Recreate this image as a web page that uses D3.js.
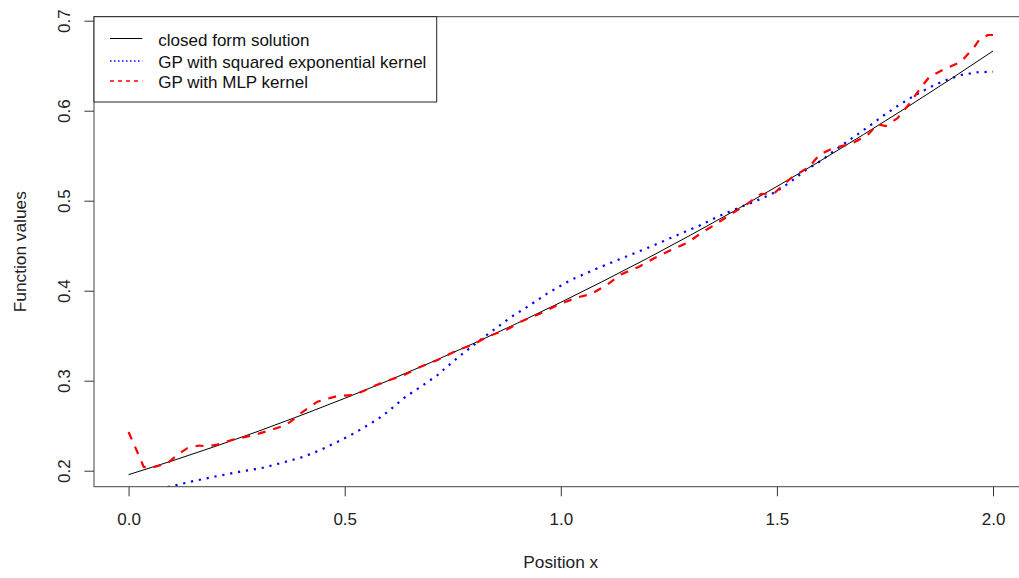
<!DOCTYPE html>
<html>
<head>
<meta charset="utf-8">
<script src="https://cdn.jsdelivr.net/npm/d3@7"></script>
<style>
  html, body { margin: 0; padding: 0; background: #fff; }
  svg { display: block; font-family: "Liberation Sans", Arial, sans-serif; }
</style>
</head>
<body>
<svg id="chart" width="1019" height="578"></svg>
<script>
// ---- data ----
const xTicks = [0.0, 0.5, 1.0, 1.5, 2.0];
const yTicks = [0.2, 0.3, 0.4, 0.5, 0.6, 0.7];

const closedX = [0.0, 0.1, 0.2, 0.3, 0.4, 0.5, 0.6, 0.7, 0.8, 0.9, 1.0, 1.1, 1.2, 1.3, 1.4, 1.5, 1.6, 1.7, 1.8, 1.9, 2.0];
const closedY = [0.1956, 0.2108, 0.2269, 0.2438, 0.2617, 0.2804, 0.2999, 0.3204, 0.3418, 0.3640, 0.3871, 0.4111, 0.4359, 0.4617, 0.4883, 0.5158, 0.5441, 0.5734, 0.6035, 0.6345, 0.6663];

const seX = [0.0, 0.105, 0.1435, 0.205, 0.267, 0.306, 0.344, 0.406, 0.444, 0.483, 0.522, 0.576, 0.606, 0.641, 0.676, 0.715, 0.730, 0.769, 0.799, 0.834, 0.884, 0.923, 0.969, 1.023, 1.085, 1.147, 1.208, 1.270, 1.324, 1.363, 1.409, 1.448, 1.494, 1.529, 1.567, 1.602, 1.637, 1.679, 1.714, 1.745, 1.779, 1.814, 1.849, 1.887, 1.926, 1.964, 2.0];
const seY = [0.172, 0.1833, 0.1878, 0.194, 0.1997, 0.2027, 0.2074, 0.2156, 0.223, 0.232, 0.2416, 0.257, 0.268, 0.2822, 0.2933, 0.3063, 0.3127, 0.3286, 0.3397, 0.3527, 0.3704, 0.3822, 0.397, 0.4119, 0.4249, 0.4371, 0.4489, 0.4619, 0.473, 0.4822, 0.4916, 0.4989, 0.5089, 0.52, 0.5341, 0.5444, 0.5571, 0.5711, 0.583, 0.5941, 0.6052, 0.6156, 0.6249, 0.6333, 0.6397, 0.6427, 0.6433];

const mlpX = [0.0, 0.035, 0.047, 0.089, 0.117, 0.136, 0.163, 0.182, 0.205, 0.244, 0.282, 0.321, 0.360, 0.375, 0.398, 0.437, 0.483, 0.522, 0.568, 0.599, 0.637, 0.676, 0.715, 0.761, 0.799, 0.830, 0.876, 0.907, 0.954, 0.992, 1.039, 1.069, 1.108, 1.139, 1.181, 1.216, 1.255, 1.293, 1.324, 1.355, 1.397, 1.428, 1.463, 1.494, 1.506, 1.532, 1.575, 1.598, 1.629, 1.671, 1.710, 1.733, 1.752, 1.779, 1.806, 1.829, 1.853, 1.887, 1.926, 1.957, 1.968, 1.988, 2.0];
const mlpY = [0.243, 0.2044, 0.2027, 0.208, 0.219, 0.225, 0.228, 0.227, 0.229, 0.235, 0.2386, 0.244, 0.250, 0.2545, 0.2638, 0.2767, 0.283, 0.284, 0.294, 0.300, 0.3063, 0.3156, 0.323, 0.334, 0.3404, 0.349, 0.357, 0.3656, 0.3749, 0.384, 0.3927, 0.396, 0.407, 0.418, 0.4267, 0.436, 0.4452, 0.4533, 0.4638, 0.473, 0.486, 0.4952, 0.5074, 0.5082, 0.5138, 0.5249, 0.5378, 0.5508, 0.5582, 0.563, 0.573, 0.5849, 0.583, 0.5916, 0.6074, 0.623, 0.6378, 0.646, 0.6544, 0.6711, 0.6786, 0.6841, 0.6841];

const legendLabels = ["closed form solution", "GP with squared exponential kernel", "GP with MLP kernel"];
const xTitle = "Position x";
const yTitle = "Function values";

// ---- layout ----
const pL = 94, pR = 1027.6, pT = 16.7, pB = 486.7;
const svg = d3.select("#chart");

const x = d3.scaleLinear().domain([-0.08, 2.08]).range([pL, pR]);
const y = d3.scaleLinear().domain([0.182222, 0.704444]).range([pB, pT]);

svg.append("defs").append("clipPath").attr("id", "plotclip")
  .append("rect").attr("x", pL).attr("y", pT)
  .attr("width", pR - pL).attr("height", pB - pT);

const zip = (xs, ys) => xs.map((v, i) => [v, ys[i]]);
const line = d3.line().x(d => x(d[0])).y(d => y(d[1]));

const g = svg.append("g").attr("clip-path", "url(#plotclip)");

g.append("path").datum(zip(seX, seY))
  .attr("d", line).attr("fill", "none")
  .attr("stroke", "#0000FF").attr("stroke-width", 2.2)
  .attr("stroke-dasharray", "2.2,5.8");

g.append("path").datum(zip(closedX, closedY))
  .attr("d", line).attr("fill", "none")
  .attr("stroke", "#000").attr("stroke-width", 1);

g.append("path").datum(zip(mlpX, mlpY))
  .attr("d", line).attr("fill", "none")
  .attr("stroke", "#FF0000").attr("stroke-width", 2.2)
  .attr("stroke-dasharray", "8,8");

// ---- axes ----
const xAxis = d3.axisBottom(x).tickValues(xTicks)
  .tickFormat(d3.format(".1f")).tickSize(9.6).tickPadding(17);
const gx = svg.append("g").attr("transform", `translate(0,${pB})`).call(xAxis);
gx.select(".domain").remove();
gx.selectAll("line").attr("stroke", "#333");
gx.selectAll("text").attr("font-size", 17).attr("fill", "#222")
  .attr("font-family", "Liberation Sans, Arial, sans-serif");

const yAxis = d3.axisLeft(y).tickValues(yTicks)
  .tickFormat(d3.format(".1f")).tickSize(9.6);
const gy = svg.append("g").attr("transform", `translate(${pL},0)`).call(yAxis);
gy.select(".domain").remove();
gy.selectAll("line").attr("stroke", "#333");
gy.selectAll("text")
  .attr("x", null).attr("dy", null)
  .attr("transform", "translate(-24,0) rotate(-90)")
  .attr("text-anchor", "middle")
  .attr("font-size", 17).attr("fill", "#222")
  .attr("font-family", "Liberation Sans, Arial, sans-serif");

// frame
svg.append("rect").attr("x", pL).attr("y", pT)
  .attr("width", pR - pL).attr("height", pB - pT)
  .attr("fill", "none").attr("stroke", "#444").attr("stroke-width", 1);

// titles
svg.append("text").attr("x", (pL + pR) / 2).attr("y", 567.7)
  .attr("text-anchor", "middle").attr("font-size", 17.3).attr("fill", "#222")
  .text(xTitle);
svg.append("text")
  .attr("transform", `translate(25.7,${(pT + pB) / 2}) rotate(-90)`)
  .attr("text-anchor", "middle").attr("font-size", 17.3).attr("fill", "#222")
  .text(yTitle);

// ---- legend ----
const legColors = ["#000000", "#0000FF", "#FF0000"];
const legDash = [null, "1.5,2.5", "4,4"];
const legWidth = [1.2, 1.6, 1.6];
const legY = [38.5, 61, 81];
const legBase = [46.3, 67.5, 88.4];
const lg = svg.append("g");
lg.append("rect").attr("x", pL).attr("y", pT)
  .attr("width", 436.7 - pL).attr("height", 102 - pT)
  .attr("fill", "#fff").attr("stroke", "#222").attr("stroke-width", 1);
legendLabels.forEach((lab, i) => {
  lg.append("line").attr("x1", 110).attr("x2", 142.3)
    .attr("y1", legY[i]).attr("y2", legY[i])
    .attr("stroke", legColors[i]).attr("stroke-width", legWidth[i])
    .attr("stroke-dasharray", legDash[i]);
  lg.append("text").attr("x", 158.3).attr("y", legBase[i])
    .attr("font-size", 17).attr("fill", "#111").text(lab);
});
</script>
</body>
</html>
